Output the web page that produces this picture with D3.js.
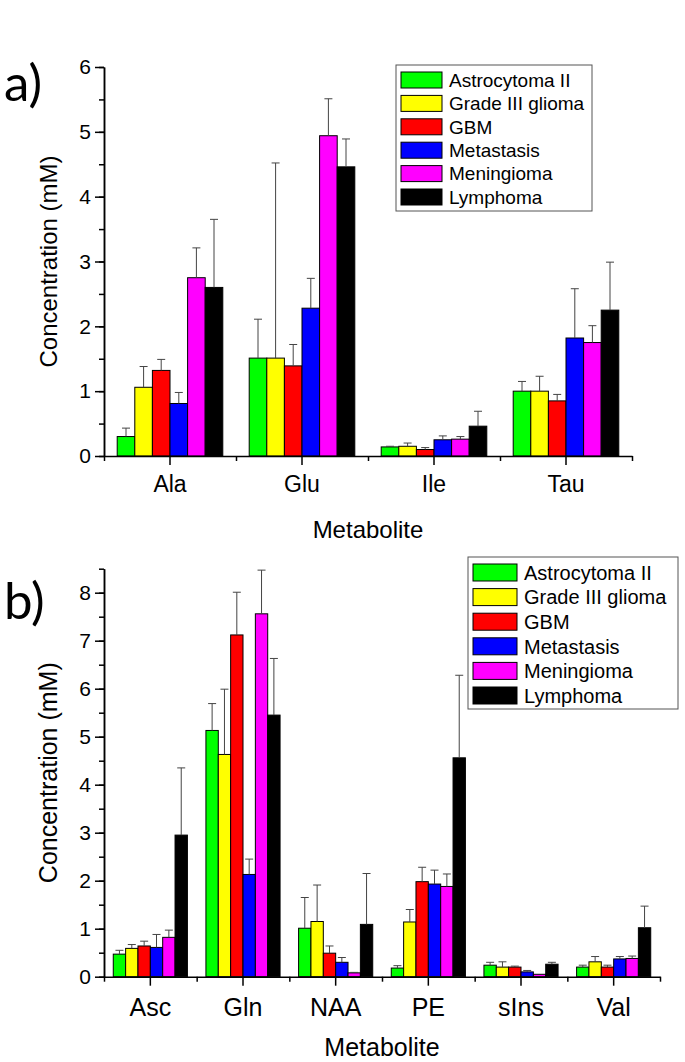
<!DOCTYPE html>
<html><head><meta charset="utf-8">
<script src="https://cdn.jsdelivr.net/npm/d3@7/dist/d3.min.js"></script>
<style>
body{margin:0;background:#fff}
svg text{font-family:"Liberation Sans",Arial,Helvetica,sans-serif;fill:#000}
</style>
</head><body>
<svg id="chart" width="685" height="1062"></svg>
<script>
// ---------- data ----------
const seriesNames = ["Astrocytoma II","Grade III glioma","GBM","Metastasis","Meningioma","Lymphoma"];

// panel a
const catsA = ["Ala","Glu","Ile","Tau"];
const astroA  = [0.30,1.51,0.14,1.00];
const grade3A = [1.06,1.51,0.15,1.00];
const gbmA    = [1.32,1.39,0.10,0.85];
const metaA   = [0.81,2.28,0.25,1.82];
const meninA  = [2.75,4.94,0.26,1.75];
const lymphA  = [2.60,4.46,0.46,2.25];
const astroSdA  = [0.13,0.60,0.01,0.15];
const grade3SdA = [0.32,3.01,0.05,0.23];
const gbmSdA    = [0.17,0.33,0.03,0.10];
const metaSdA   = [0.17,0.46,0.06,0.76];
const meninSdA  = [0.46,0.57,0.04,0.26];
const lymphSdA  = [1.05,0.43,0.23,0.74];
const yTicksA = [0,1,2,3,4,5,6];

// panel b
const catsB = ["Asc","Gln","NAA","PE","sIns","Val"];
const astroB  = [0.47,5.13,1.01,0.18,0.24,0.20];
const grade3B = [0.59,4.63,1.15,1.14,0.20,0.31];
const gbmB    = [0.64,7.12,0.49,1.98,0.20,0.20];
const metaB   = [0.61,2.13,0.30,1.93,0.10,0.37];
const meninB  = [0.82,7.56,0.08,1.88,0.05,0.38];
const lymphB  = [2.95,5.45,1.09,4.56,0.26,1.02];
const astroSdB  = [0.08,0.56,0.64,0.05,0.06,0.04];
const grade3SdB = [0.08,1.36,0.76,0.26,0.11,0.11];
const gbmSdB    = [0.10,0.89,0.15,0.30,0.02,0.04];
const metaSdB   = [0.27,0.32,0.10,0.29,0.03,0.05];
const meninSdB  = [0.15,0.91,0.01,0.26,0.00,0.05];
const lymphSdB  = [1.40,1.18,1.06,1.72,0.04,0.45];
const yTicksB = [0,1,2,3,4,5,6,7,8];

// ---------- styles ----------
const colors = ["#00ff00","#ffff00","#ff0000","#0000ff","#ff00ff","#000000"];

const svg = d3.select("#chart");

function drawPanel(o){
  const g = svg.append("g");
  const x = d3.scaleBand().domain(o.cats).range([o.x0,o.x1]).padding(0);
  const inner = d3.scaleBand().domain(d3.range(o.means.length))
      .range([0.1*x.bandwidth(), 0.9*x.bandwidth()]).padding(0);
  const y = d3.scaleLinear().domain([0,o.yMax]).range([o.y0,o.yTop]);

  // bars
  o.means.forEach((arr,si)=>{
    g.append("g").selectAll("rect").data(arr).join("rect")
      .attr("x",(d,i)=>x(o.cats[i])+inner(si))
      .attr("y",d=>y(d))
      .attr("width",inner.bandwidth())
      .attr("height",d=>y(0)-y(d))
      .attr("fill",colors[si])
      .attr("stroke","#000").attr("stroke-width",1);
  });
  // error bars (upper only)
  o.means.forEach((arr,si)=>{
    const sd = o.sds[si];
    const eg = g.append("g").attr("stroke","#444").attr("stroke-width",1).attr("fill","none");
    arr.forEach((d,i)=>{
      const cx = x(o.cats[i])+inner(si)+inner.bandwidth()/2;
      if(sd[i]<=0) return;
      eg.append("line").attr("x1",cx).attr("x2",cx).attr("y1",y(d)).attr("y2",y(d+sd[i]));
      eg.append("line").attr("x1",cx-4).attr("x2",cx+4).attr("y1",y(d+sd[i])).attr("y2",y(d+sd[i]));
    });
  });

  // y axis: minor ticks
  const minor = d3.range(0,o.yMax+1e-9,0.5);
  g.append("g").attr("transform",`translate(${o.x0},0)`)
    .call(d3.axisLeft(y).tickValues(minor).tickSize(5).tickSizeOuter(0).tickFormat(""))
    .call(s=>s.selectAll("path,line").attr("stroke","#000").attr("stroke-width",1.5));
  // y axis: major ticks with labels
  g.append("g").attr("transform",`translate(${o.x0},0)`)
    .call(d3.axisLeft(y).tickValues(o.yTicks).tickSize(9).tickSizeOuter(0).tickPadding(4).tickFormat(d3.format("d")))
    .call(s=>{
      s.selectAll("path,line").attr("stroke","#000").attr("stroke-width",1.5);
      s.selectAll("text").attr("font-size",o.yTickFont).attr("font-family",null).attr("fill","#000");
    });

  // x axis: boundaries (minor)
  const xb = d3.scaleLinear().domain([0,o.cats.length]).range([o.x0,o.x1]);
  g.append("g").attr("transform",`translate(0,${o.y0})`)
    .call(d3.axisBottom(xb).tickValues(d3.range(0,o.cats.length+1)).tickSize(5).tickSizeOuter(0).tickFormat(""))
    .call(s=>s.selectAll("path,line").attr("stroke","#000").attr("stroke-width",1.5));
  // x axis: centers (major) with labels
  g.append("g").attr("transform",`translate(0,${o.y0})`)
    .call(d3.axisBottom(x).tickSize(9).tickSizeOuter(0).tickPadding(o.xTickPad))
    .call(s=>{
      s.select("path").remove();
      s.selectAll("line").attr("stroke","#000").attr("stroke-width",1.5);
      s.selectAll("text").attr("font-size",o.xTickFont).attr("font-family",null).attr("fill","#000");
    });

  // axis titles
  g.append("text").attr("transform",`translate(${o.yTitleX},${(o.y0+o.yTitleTop)/2}) rotate(-90)`)
    .attr("text-anchor","middle").attr("font-size",o.titleFont).text("Concentration (mM)");
  g.append("text").attr("x",(o.x0+o.x1)/2).attr("y",o.xTitleY)
    .attr("text-anchor","middle").attr("font-size",o.titleFont).text("Metabolite");

  // panel label
  g.append("text").attr("x",4).attr("y",o.labelY)
    .style("font-family","Lato, 'Open Sans', sans-serif").attr("font-size",51).text(o.label);

  // legend
  const L = o.legend;
  const lg = g.append("g");
  lg.append("rect").attr("x",L.x).attr("y",L.y).attr("width",L.w).attr("height",L.h)
    .attr("fill","#fff").attr("stroke","#555").attr("stroke-width",1);
  seriesNames.forEach((nm,i)=>{
    const cy = L.y + L.first + i*L.step;
    lg.append("rect").attr("x",L.x+L.swX).attr("y",cy-L.swH/2).attr("width",L.swW).attr("height",L.swH)
      .attr("fill",colors[i]).attr("stroke","#000").attr("stroke-width",1);
    lg.append("text").attr("x",L.x+L.txX).attr("y",cy).attr("dy","0.36em")
      .attr("font-size",L.font).text(nm);
  });
}

drawPanel({
  cats:catsA,
  means:[astroA,grade3A,gbmA,metaA,meninA,lymphA],
  sds:[astroSdA,grade3SdA,gbmSdA,metaSdA,meninSdA,lymphSdA],
  yTicks:yTicksA, yMax:6,
  x0:104, x1:632, y0:456, yTop:67,
  yTickFont:21, xTickFont:23, xTickPad:11, titleFont:24,
  yTitleX:57, yTitleTop:67, xTitleY:538,
  label:"a)", labelY:101,
  legend:{x:396,y:65,w:196,h:146,first:15,step:23.4,swX:5,swW:41,swH:16,txX:53,font:19}
});

drawPanel({
  cats:catsB,
  means:[astroB,grade3B,gbmB,metaB,meninB,lymphB],
  sds:[astroSdB,grade3SdB,gbmSdB,metaSdB,meninSdB,lymphSdB],
  yTicks:yTicksB, yMax:8.5,
  x0:104, x1:660, y0:976.7, yTop:568.7,
  yTickFont:21, xTickFont:25, xTickPad:13, titleFont:25,
  yTitleX:57, yTitleTop:568.7, xTitleY:1056,
  label:"b)", labelY:619,
  legend:{x:468,y:557,w:210,h:152,first:15.5,step:24.6,swX:5,swW:44,swH:17,txX:56,font:20}
});
</script>
</body></html>
